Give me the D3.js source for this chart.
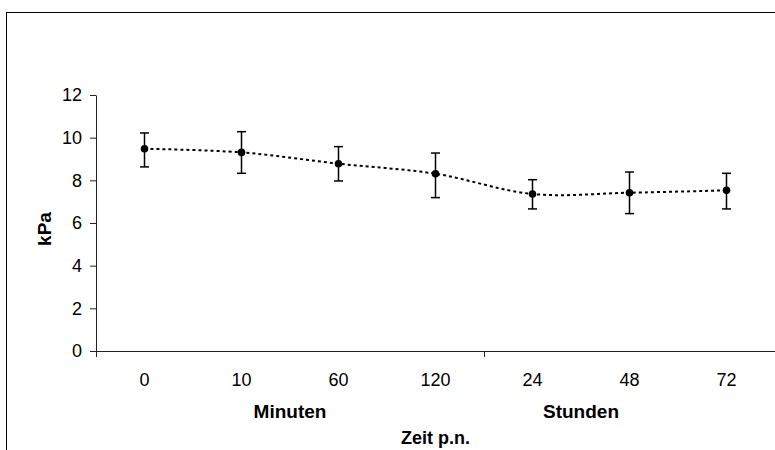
<!DOCTYPE html>
<html>
<head>
<meta charset="utf-8">
<script src="https://cdn.jsdelivr.net/npm/d3@7"></script>
<style>
  html, body { margin: 0; padding: 0; background: #fff; }
  svg { display: block; }
  text { font-family: "Liberation Sans", Arial, sans-serif; fill: #000; }
</style>
</head>
<body>
<svg id="chart" width="775" height="450"></svg>
<script>
// ---- data ----
const categories = ["0", "10", "60", "120", "24", "48", "72"];
const means = [9.48, 9.31, 8.78, 8.31, 7.36, 7.42, 7.53];
const upper = [10.22, 10.28, 9.58, 9.28, 8.03, 8.39, 8.33];
const lower = [8.63, 8.33, 7.97, 7.19, 6.66, 6.44, 6.66];
const yTicks = [0, 2, 4, 6, 8, 10, 12];
const groupLabels = ["Minuten", "Stunden"];
const groupCenters = [["10", "60"], ["24", "48"]];
const xTitle = "Zeit p.n.";
const yTitle = "kPa";

// ---- layout ----
const svg = d3.select("#chart");
const pLeft = 96, pRight = 775, pTop = 95, pBottom = 351;

svg.append("rect")
  .attr("x", 6.5).attr("y", 12.5)
  .attr("width", 1000).attr("height", 1000)
  .attr("fill", "none").attr("stroke", "#000").attr("stroke-width", 1);

const x = d3.scaleBand().domain(categories).range([pLeft, pRight]).padding(0);
const y = d3.scaleLinear().domain([0, 12]).range([pBottom, pTop]);
const cx = c => x(c) + x.bandwidth() / 2;

// y axis
const yAxis = svg.append("g").attr("transform", `translate(${pLeft},0)`)
  .call(d3.axisLeft(y).tickValues(yTicks).tickSize(6).tickSizeOuter(0).tickPadding(8));
yAxis.select(".domain").attr("stroke", "#222");
yAxis.selectAll(".tick line").attr("stroke", "#222");
yAxis.selectAll(".tick text").attr("font-size", 18).attr("font-family", "Liberation Sans, Arial, sans-serif").attr("fill", "#000");

// x axis: labels only, boundary ticks separately
const xAxis = svg.append("g").attr("transform", `translate(0,${pBottom})`)
  .call(d3.axisBottom(x).tickSize(0).tickSizeOuter(0).tickPadding(22));
xAxis.select(".domain").attr("stroke", "#222");
xAxis.selectAll(".tick text").attr("font-size", 18).attr("font-family", "Liberation Sans, Arial, sans-serif").attr("fill", "#000");

const boundaries = [categories[0], categories[4]];
svg.append("g").selectAll("line").data(boundaries).join("line")
  .attr("x1", d => Math.round(x(d)) + 0.5).attr("x2", d => Math.round(x(d)) + 0.5)
  .attr("y1", pBottom).attr("y2", pBottom + 6)
  .attr("stroke", "#222");

// group labels
svg.append("g").selectAll("text").data(groupLabels).join("text")
  .attr("x", (d, i) => (cx(groupCenters[i][0]) + cx(groupCenters[i][1])) / 2)
  .attr("y", 418)
  .attr("text-anchor", "middle").attr("font-size", 19).attr("font-weight", "bold")
  .text(d => d);

svg.append("text")
  .attr("x", cx(categories[3])).attr("y", 444)
  .attr("text-anchor", "middle").attr("font-size", 18).attr("font-weight", "bold")
  .text(xTitle);

svg.append("text")
  .attr("transform", `translate(51,${(pTop + pBottom) / 2 + 6}) rotate(-90)`)
  .attr("text-anchor", "middle").attr("font-size", 19).attr("font-weight", "bold")
  .text(yTitle);

// smoothed dotted line
const pts = categories.map((c, i) => [cx(c), y(means[i])]);
svg.append("path")
  .attr("d", d3.line().curve(d3.curveCatmullRom.alpha(0.5))(pts))
  .attr("fill", "none").attr("stroke", "#000")
  .attr("stroke-width", 2).attr("stroke-dasharray", "3,3");

// error bars
const eb = svg.append("g").attr("stroke", "#000").attr("stroke-width", 1.5);
categories.forEach((c, i) => {
  const xc = cx(c);
  eb.append("line").attr("x1", xc).attr("x2", xc).attr("y1", y(upper[i])).attr("y2", y(lower[i]));
  eb.append("line").attr("x1", xc - 4.5).attr("x2", xc + 4.5).attr("y1", y(upper[i])).attr("y2", y(upper[i]));
  eb.append("line").attr("x1", xc - 4.5).attr("x2", xc + 4.5).attr("y1", y(lower[i])).attr("y2", y(lower[i]));
});

// markers
svg.append("g").selectAll("circle").data(categories).join("circle")
  .attr("cx", d => cx(d)).attr("cy", (d, i) => y(means[i]))
  .attr("r", 3.8).attr("fill", "#000");
</script>
</body>
</html>
